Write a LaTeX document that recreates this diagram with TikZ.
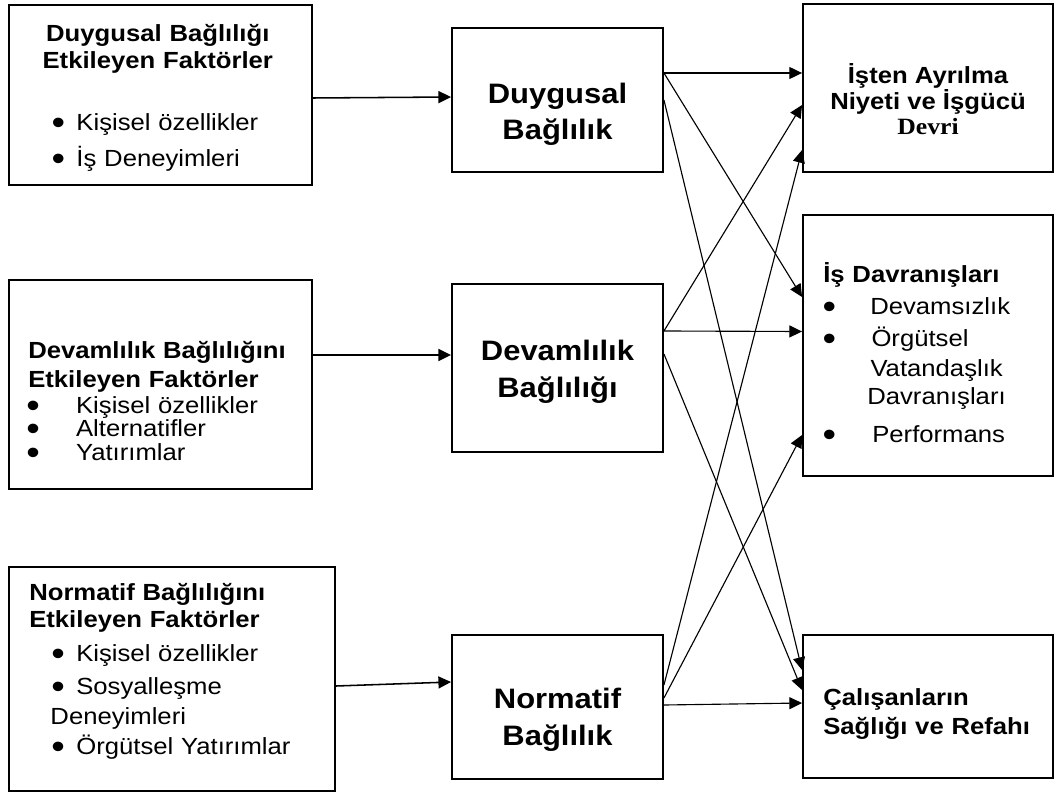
\documentclass[tikz,border=0pt]{standalone}
\usepackage{fontspec}
\usepackage{graphicx}
\setmainfont{Liberation Sans}[FakeStretch=1.1]
\newfontfamily\timesb{Liberation Serif}[FakeStretch=1.1]
\usetikzlibrary{arrows.meta, calc}

% madde isareti
\newcommand{\mad}{\makebox[0.225cm][c]{\raisebox{-0.1cm}{\scalebox{1.5}{\textbullet}}}}

\begin{document}
\begin{tikzpicture}[
    x=0.025cm, y=-0.025cm,
    block/.style = {draw, rectangle, line width=1.3pt, inner sep=0pt},
    txt/.style   = {anchor=base west, align=left, inner sep=0pt, font={\fontsize{16.6}{19}\selectfont}},
    mid/.style   = {anchor=base, align=center, inner sep=0pt, font={\fontsize{20}{26.3}\selectfont\bfseries}},
    arrow/.style = {-{Triangle[length=9pt, width=8.5pt]}, line width=1.1pt},
    link/.style  = {-{Triangle[length=9pt, width=8.5pt]}, line width=0.8pt}
]
\useasboundingbox (0,0) rectangle (1056,793);

% Sol kutular
\node[block, minimum width=7.575cm, minimum height=4.5cm]   (fDuy) at (160.5,95)  {};
\node[block, minimum width=7.575cm, minimum height=5.225cm] (fDev) at (160.5,384.5) {};
\node[block, minimum width=8.15cm,  minimum height=5.6cm]   (fNor) at (172,679)   {};

% Orta kutular
\node[block, minimum width=5.275cm, minimum height=3.6cm] (Duy) at (557.5,100) {};
\node[block, minimum width=5.275cm, minimum height=4.2cm] (Dev) at (557.5,368) {};
\node[block, minimum width=5.275cm, minimum height=3.6cm] (Nor) at (557.5,707) {};

% Sag kutular
\node[block, minimum width=6.25cm, minimum height=4.2cm]   (Ayr) at (928,88)    {};
\node[block, minimum width=6.25cm, minimum height=6.525cm] (Dav) at (928,345.5) {};
\node[block, minimum width=6.25cm, minimum height=3.575cm] (Sag) at (928,706.5) {};

% Yazilar
\node[txt, text width=6.375cm] (fDuy-t) at (30,42)
    {{\centering\bfseries Duygusal Bağlılığı\\Etkileyen Faktörler\par}\vspace{0.883cm}
     \hspace*{0.59cm}\mad\hspace{0.34cm}Kişisel özellikler\\[0.23cm]
     \hspace*{0.59cm}\mad\hspace{0.34cm}İş Deneyimleri};
\node[txt, text width=7cm] (fDev-t) at (28,358)
    {{\bfseries Devamlılık Bağlılığını\\[0.06cm]Etkileyen Faktörler}\\[-0.02cm]
     \hspace*{0.01cm}\mad\hspace{0.96cm}Kişisel özellikler\\[-0.07cm]
     \hspace*{0.01cm}\mad\hspace{0.96cm}Alternatifler\\[-0.09cm]
     \hspace*{0.01cm}\mad\hspace{0.96cm}Yatırımlar};
\node[txt, text width=7.6cm] (fNor-t) at (29,600)
    {{\bfseries Normatif Bağlılığını\\[0.03cm]Etkileyen Faktörler}\\[0.18cm]
     \hspace*{0.61cm}\mad\hspace{0.34cm}Kişisel özellikler\\[0.16cm]
     \hspace*{0.61cm}\mad\hspace{0.34cm}Sosyalleşme\\[0.08cm]
     \hspace*{0.53cm}Deneyimleri\\[0.08cm]
     \hspace*{0.61cm}\mad\hspace{0.34cm}Örgütsel Yatırımlar};

\node[mid] (Duy-t) at (557.5,140) {Duygusal\\Bağlılık};
\node[mid] (Dev-t) at (557.5,397) {Devamlılık\\Bağlılığı};
\node[mid] (Nor-t) at (557.5,745) {Normatif\\Bağlılık};

\node[txt, anchor=base, align=center, font={\fontsize{16.6}{19}\selectfont\bfseries}] (Ayr-t) at (928,135)
    {İşten Ayrılma\\Niyeti ve İşgücü\\[-0.04cm]{\timesb Devri}};
\node[txt, text width=5.6cm] (Dav-t) at (823,283)
    {{\bfseries İş Davranışları}\\[0.13cm]
     \hspace*{0.04cm}\mad\hspace{0.91cm}Devamsızlık\\[0.13cm]
     \hspace*{0.04cm}\mad\hspace{0.94cm}Örgütsel\\[0.08cm]
     \hspace*{1.18cm}Vatandaşlık\\[0.03cm]
     \hspace*{1.1cm}Davranışları\\[0.28cm]
     \hspace*{0.04cm}\mad\hspace{0.96cm}Performans};
\node[txt, text width=5.6cm, font={\fontsize{16.6}{19}\selectfont\bfseries}] (Sag-t) at (823,705)
    {Çalışanların\\[0.08cm]Sağlığı ve Refahı};

% Faktorler -> baglilik
\draw[arrow] ($(fDuy.east)+(0,3)$)     -- ($(Duy.west)+(0,-3)$);
\draw[arrow] ($(fDev.east)+(0,-29.5)$) -- ($(Dev.west)+(0,-13)$);
\draw[arrow] ($(fNor.east)+(0,7)$)     -- ($(Nor.west)+(0,-25)$);

% Baglilik -> sonuclar
\draw[link] ($(Duy.east)+(0,-27)$) -- ($(Ayr.west)+(0,-15)$);
\draw[link] ($(Duy.east)+(0,-27)$) -- ($(Dav.west)+(0,-48.5)$);
\draw[link] (Duy.east)             -- ($(Sag.west)+(0,-36.5)$);
\draw[link] ($(Dev.east)+(0,-37)$) -- ($(Ayr.west)+(0,17)$);
\draw[link] ($(Dev.east)+(0,-37)$) -- ($(Dav.west)+(0,-14)$);
\draw[link] ($(Dev.east)+(0,-14)$) -- ($(Sag.west)+(0,-16.5)$);
\draw[link] ($(Nor.east)+(0,-22)$) -- ($(Ayr.west)+(0,62)$);
\draw[link] ($(Nor.east)+(0,-9)$)  -- ($(Dav.west)+(0,89.5)$);
\draw[link] ($(Nor.east)+(0,-2)$)  -- ($(Sag.west)+(0,-3.5)$);

\end{tikzpicture}
\end{document}
